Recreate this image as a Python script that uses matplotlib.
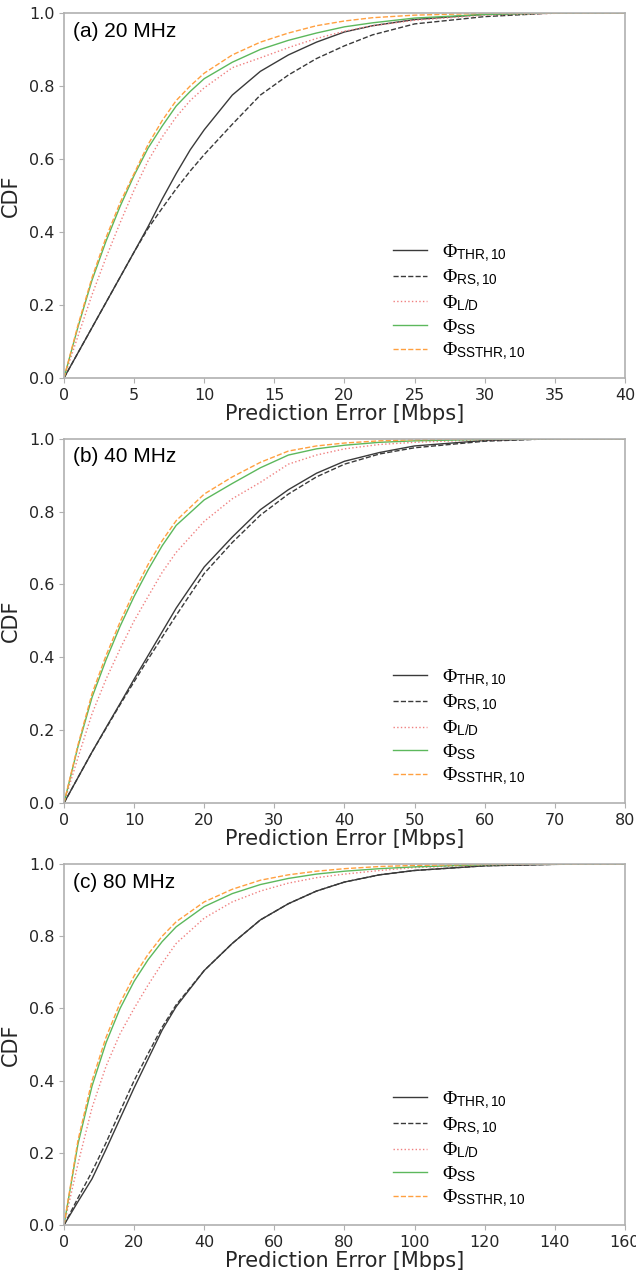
import matplotlib
matplotlib.use('Agg')
import matplotlib.pyplot as plt

plt.rcParams['mathtext.fontset'] = 'custom'
plt.rcParams['mathtext.rm'] = 'Liberation Serif'
plt.rcParams['mathtext.it'] = 'Liberation Serif:italic'
plt.rcParams['mathtext.sf'] = 'Liberation Sans'

# ---------------- data ----------------
labels = [r'$\mathrm{\Phi}_{\mathsf{THR,10}}$', r'$\mathrm{\Phi}_{\mathsf{RS,10}}$',
          r'$\mathrm{\Phi}_{\mathsf{L/D}}$', r'$\mathrm{\Phi}_{\mathsf{SS}}$',
          r'$\mathrm{\Phi}_{\mathsf{SSTHR,10}}$']
titles = ['(a) 20 MHz', '(b) 40 MHz', '(c) 80 MHz']
xmax = [40, 80, 160]

# (a) 20 MHz
x_a = [0, 1, 2, 3, 4, 5, 6, 7, 8, 9, 10, 12, 14, 16, 18, 20, 22, 25, 30, 35, 40]
thr_a = [0, 0.069, 0.138, 0.207, 0.276, 0.345, 0.415, 0.49, 0.56, 0.625, 0.68, 0.775, 0.84, 0.885, 0.92, 0.948, 0.965, 0.982, 0.996, 1, 1]
rs_a = [0, 0.069, 0.138, 0.207, 0.276, 0.345, 0.41, 0.465, 0.518, 0.567, 0.612, 0.695, 0.775, 0.83, 0.875, 0.91, 0.94, 0.97, 0.99, 1, 1]
ld_a = [0, 0.115, 0.228, 0.33, 0.425, 0.515, 0.595, 0.66, 0.715, 0.76, 0.795, 0.85, 0.877, 0.905, 0.93, 0.95, 0.965, 0.98, 0.994, 0.999, 1]
ss_a = [0, 0.14, 0.268, 0.375, 0.47, 0.555, 0.63, 0.69, 0.745, 0.785, 0.82, 0.865, 0.90, 0.925, 0.945, 0.962, 0.973, 0.986, 0.996, 1, 1]
ssthr_a = [0, 0.145, 0.275, 0.385, 0.48, 0.56, 0.64, 0.705, 0.76, 0.80, 0.835, 0.885, 0.92, 0.945, 0.965, 0.978, 0.987, 0.994, 0.999, 1, 1]

# (b) 40 MHz
x_b = [0, 2, 4, 6, 8, 10, 12, 14, 16, 20, 24, 28, 32, 36, 40, 45, 50, 60, 70, 80]
thr_b = [0, 0.07, 0.14, 0.207, 0.273, 0.34, 0.405, 0.47, 0.535, 0.648, 0.73, 0.805, 0.86, 0.905, 0.938, 0.962, 0.98, 0.995, 1, 1]
rs_b = [0, 0.07, 0.14, 0.205, 0.27, 0.333, 0.395, 0.455, 0.515, 0.63, 0.715, 0.79, 0.848, 0.895, 0.93, 0.958, 0.975, 0.993, 1, 1]
ld_b = [0, 0.125, 0.245, 0.34, 0.423, 0.50, 0.567, 0.633, 0.688, 0.773, 0.835, 0.88, 0.93, 0.955, 0.972, 0.984, 0.99, 0.997, 1, 1]
ss_b = [0, 0.155, 0.29, 0.393, 0.485, 0.567, 0.64, 0.706, 0.762, 0.832, 0.877, 0.92, 0.955, 0.972, 0.982, 0.99, 0.994, 0.998, 1, 1]
ssthr_b = [0, 0.16, 0.30, 0.405, 0.497, 0.58, 0.655, 0.72, 0.775, 0.848, 0.895, 0.935, 0.966, 0.98, 0.988, 0.994, 0.997, 1, 1, 1]

# (c) 80 MHz
x_c = [0, 4, 8, 12, 16, 20, 24, 28, 32, 40, 48, 56, 64, 72, 80, 90, 100, 120, 140, 160]
thr_c = [0, 0.065, 0.128, 0.21, 0.295, 0.38, 0.46, 0.54, 0.605, 0.705, 0.78, 0.845, 0.89, 0.925, 0.95, 0.97, 0.982, 0.995, 0.999, 1]
rs_c = [0, 0.075, 0.148, 0.228, 0.315, 0.40, 0.475, 0.548, 0.61, 0.705, 0.78, 0.845, 0.89, 0.925, 0.95, 0.97, 0.982, 0.995, 0.999, 1]
ld_c = [0, 0.17, 0.325, 0.44, 0.53, 0.60, 0.665, 0.725, 0.78, 0.85, 0.895, 0.925, 0.947, 0.962, 0.972, 0.982, 0.99, 0.997, 1, 1]
ss_c = [0, 0.225, 0.385, 0.505, 0.60, 0.675, 0.735, 0.785, 0.826, 0.882, 0.918, 0.943, 0.96, 0.972, 0.98, 0.987, 0.992, 0.998, 1, 1]
ssthr_c = [0, 0.235, 0.40, 0.52, 0.615, 0.69, 0.75, 0.80, 0.84, 0.895, 0.93, 0.955, 0.97, 0.98, 0.987, 0.993, 0.996, 0.999, 1, 1]

panels = [
    (x_a, [thr_a, rs_a, ld_a, ss_a, ssthr_a]),
    (x_b, [thr_b, rs_b, ld_b, ss_b, ssthr_b]),
    (x_c, [thr_c, rs_c, ld_c, ss_c, ssthr_c]),
]

colors = ['#3a3a3a', '#3a3a3a', '#f08080', '#5cb85c', '#ffa040']
styles = ['-', '--', ':', '-', '--']

fig = plt.figure(figsize=(6.36, 12.7), dpi=100)
boxes = [(0.1006, 0.7024, 0.8821, 0.2874),
         (0.1006, 0.3677, 0.8821, 0.2869),
         (0.1006, 0.0354, 0.8821, 0.2843)]

for i, (x, ys) in enumerate(panels):
    ax = fig.add_axes(boxes[i])
    for y, c, s, lab in zip(ys, colors, styles, labels):
        ax.plot(x, y, color=c, linestyle=s, linewidth=1.0, label=lab)
    ax.set_xlim(0, xmax[i])
    ax.set_ylim(0, 1.0)
    ax.set_yticks([0, 0.2, 0.4, 0.6, 0.8, 1.0])
    for sp in ax.spines.values():
        sp.set_color('#b0b0b0')
        sp.set_linewidth(1.2)
    ax.tick_params(colors='#b0b0b0', labelcolor='#262626', labelsize=11.5)
    ax.set_xlabel('Prediction Error [Mbps]', fontsize=15, color='#262626', labelpad=1)
    ax.set_ylabel('CDF', fontsize=15, color='#262626', labelpad=6)
    ax.text(0.016, 0.95, titles[i], transform=ax.transAxes, fontsize=15,
            family='Liberation Sans', va='center', ha='left')
    leg = ax.legend(loc='lower left', bbox_to_anchor=(0.572, 0.022), fontsize=14,
                    frameon=True, framealpha=1, fancybox=False,
                    handlelength=1.75, handletextpad=0.8, labelspacing=0.2,
                    borderaxespad=0.0)
    leg.get_frame().set_edgecolor('none')

fig.savefig('out.png', dpi=100)
